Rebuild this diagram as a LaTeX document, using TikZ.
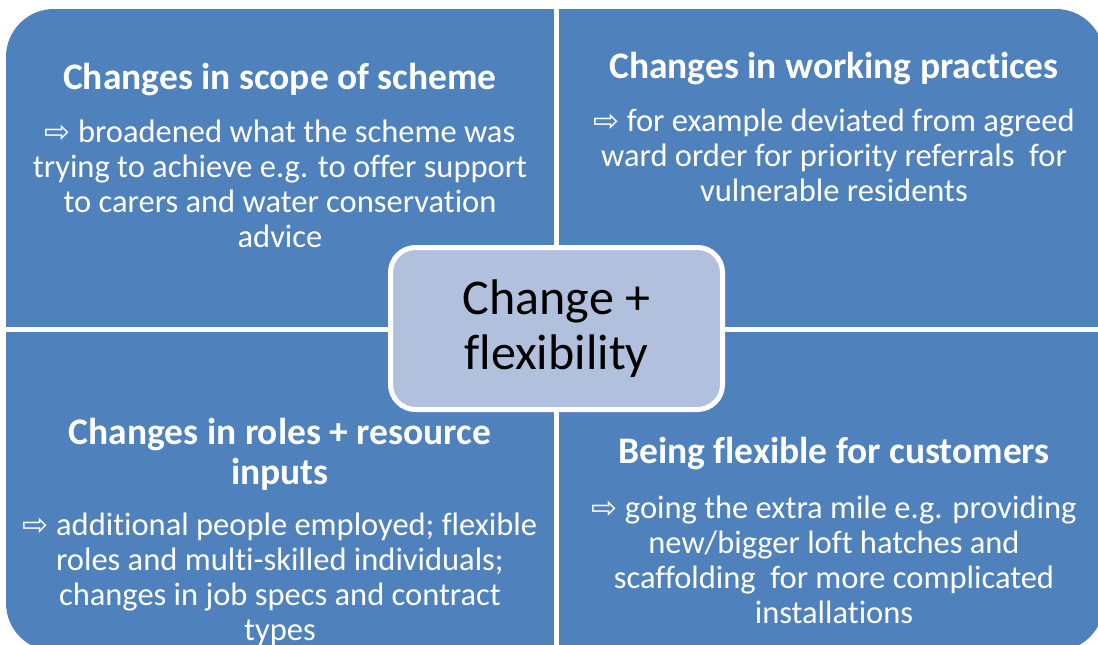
\documentclass[tikz,border=0pt]{standalone}
\usepackage{fontspec}
\setmainfont{Carlito}[Ligatures={NoCommon}]
\newfontfamily\symfont{DejaVu Sans}
\definecolor{quadblue}{HTML}{4F81BD}
\definecolor{centerblue}{HTML}{B1C1DD}
\newcommand\arrsym{{\symfont\fontsize{31}{35}\selectfont ⇨}}
\tikzset{
  heading/.style={text=white, align=center, font=\bfseries\fontsize{37.5}{40}\selectfont, inner sep=0pt},
  bodytext/.style={text=white, align=center, font=\fontsize{32.5}{35}\selectfont, inner sep=0pt},
  centerbox/.style={draw=white, line width=5pt, fill=centerblue, rounded corners=25pt,
    minimum width=332pt, minimum height=162pt, align=center,
    font=\fontsize{50}{55}\selectfont, text=black, inner sep=0pt}
}
\begin{document}
\begin{tikzpicture}[x=1pt,y=-1pt]
\useasboundingbox (0,0) rectangle (1098,645);
\clip (0,0) rectangle (1098,645);
% outer shape
\fill[quadblue, rounded corners=48pt] (6,9) rectangle (1104,651);
% white gaps
\fill[white] (554,0) rectangle (559,660);
\fill[white] (0,327) rectangle (1110,332);
% centre
\node[centerbox] (centre) at (556.5,328.5) {Change +\\flexibility};
% top-left
\node[heading] (h1) at (280,80) {Changes in scope of scheme};
\node[bodytext] (b1) at (280,184) {\arrsym\ broadened what the scheme was\\trying to achieve e.g. to offer support\\to carers and water conservation\\advice};
% top-right
\node[heading] (h2) at (834,69) {Changes in working practices};
\node[bodytext] (b2) at (834,155) {\arrsym\ for example deviated from agreed\\ward order for priority referrals\ \ for\\vulnerable residents};
% bottom-left
\node[heading] (h3) at (280,454) {Changes in roles + resource\\inputs};
\node[bodytext] (b3) at (280,579.5) {\arrsym\ additional people employed; flexible\\roles and multi-skilled individuals;\\changes in job specs and contract\\types};
% bottom-right
\node[heading] (h4) at (834,454) {Being flexible for customers};
\node[bodytext] (b4) at (834,559.5) {\arrsym\ going the extra mile e.g. providing\\new/bigger loft hatches and\\scaffolding\ \ for more complicated\\installations};
\end{tikzpicture}
\end{document}
